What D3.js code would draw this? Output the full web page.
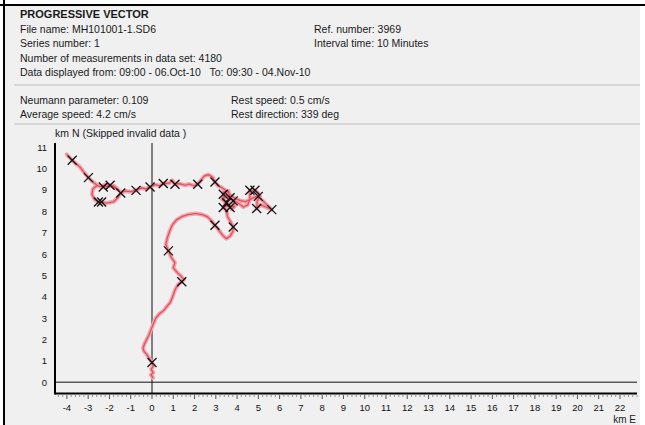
<!DOCTYPE html>
<html>
<head>
<meta charset="utf-8">
<script src="https://cdn.jsdelivr.net/npm/d3@7"></script>
<style>
  html, body { margin: 0; padding: 0; background: #fff; }
  svg { display: block; font-family: "Liberation Sans", Arial, sans-serif; }
  text { white-space: pre; }
</style>
</head>
<body>
<svg id="chart" width="645" height="425"></svg>
<script>
// Header information
const titleText = "PROGRESSIVE VECTOR";
const headerLeft = [
  "File name: MH101001-1.SD6",
  "Series number: 1",
  "Number of measurements in data set: 4180",
  "Data displayed from: 09:00 - 06.Oct-10   To: 09:30 - 04.Nov-10"
];
const headerRight = ["Ref. number: 3969", "Interval time: 10 Minutes"];
const statsLeft = ["Neumann parameter: 0.109", "Average speed: 4.2 cm/s"];
const statsRight = ["Rest speed: 0.5 cm/s", "Rest direction: 339 deg"];
const yTitle = "km N (Skipped invalid data )";
const xTitle = "km E";

// Axis ticks (km)
const xTicks = d3.range(-4, 23);
const yTicks = d3.range(0, 12);

// Cumulative displacement track (km East, km North)
const trackE = [0.05,-0.05,0.06,-0.04,0.05,0,-0.12,-0.25,-0.38,-0.42,-0.35,-0.25,-0.15,-0.05,0.05,0.18,0.35,0.55,0.7,0.85,0.95,1.02,1.12,1.25,1.4,1.5,1.35,1.2,1.0,1.08,0.9,0.77,0.65,0.72,0.82,0.95,1.15,1.4,1.7,2.05,2.35,2.6,2.8,2.96,3.15,3.35,3.5,3.68,3.8,3.82,3.7,3.55,3.5,3.35,3.6,3.82,3.65,3.4,3.3,3.5,3.75,3.9,3.67,3.45,3.35,3.6,3.67,3.9,4.1,4.3,4.5,4.6,4.6,4.84,5.0,5.08,4.95,4.92,5.1,5.35,5.63,5.4,5.15,4.9,4.7,4.4,4.15,3.9,3.7,3.5,3.3,3.1,2.96,2.85,2.65,2.45,2.3,2.15,1.95,1.75,1.55,1.3,1.08,0.95,0.8,0.53,0.35,0.15,-0.09,-0.3,-0.5,-0.75,-1.0,-1.25,-1.47,-1.6,-1.8,-2.05,-2.2,-2.37,-2.52,-2.7,-2.82,-2.78,-2.6,-2.4,-2.2,-1.97,-1.75,-1.55,-1.8,-2.05,-2.29,-2.55,-2.8,-2.99,-3.15,-3.39,-3.6,-3.75,-3.9,-4.01];
const trackN = [0.2,0.35,0.45,0.6,0.75,0.92,1.1,1.3,1.45,1.6,1.8,2.0,2.2,2.45,2.7,3.0,3.2,3.35,3.55,3.72,3.95,4.15,4.4,4.6,4.7,4.8,4.98,5.12,5.35,5.6,5.85,6.15,6.45,6.75,7.05,7.35,7.6,7.75,7.85,7.9,7.85,7.75,7.55,7.35,7.1,6.85,6.72,6.85,7.05,7.27,7.5,7.75,8.05,8.18,8.3,8.49,8.65,8.8,8.55,8.4,8.1,8.25,8.18,8.3,8.9,8.95,8.64,8.5,8.35,8.2,8.3,8.55,8.99,8.99,8.85,8.7,8.5,8.13,8.3,8.2,8.08,8.3,8.55,8.7,8.6,8.45,8.5,8.6,8.75,8.95,9.1,9.2,9.37,9.6,9.72,9.65,9.45,9.27,9.2,9.28,9.22,9.3,9.27,9.45,9.32,9.3,9.2,9.25,9.14,9.05,9.1,8.98,8.92,8.95,8.86,8.65,8.45,8.4,8.39,8.44,8.44,8.55,8.8,9.05,9.2,9.15,9.25,9.22,9.1,8.98,9.2,9.18,9.14,9.2,9.4,9.58,9.77,10.08,10.25,10.39,10.55,10.67];

// Daily positions
const dayE = [0,1.4,0.77,2.96,3.82,3.35,3.67,3.82,3.35,3.67,3.51,4.6,4.84,5.0,4.92,5.63,2.96,2.15,1.08,0.53,-0.09,-0.75,-1.47,-1.97,-2.29,-2.37,-2.52,-2.99,-3.75];
const dayN = [0.92,4.7,6.15,7.35,7.27,8.18,8.18,8.49,8.8,8.64,8.4,8.99,8.99,8.7,8.13,8.08,9.37,9.27,9.27,9.3,9.14,8.98,8.86,9.22,9.14,8.44,8.44,9.58,10.39];

const svg = d3.select("#chart");
const W = 645, H = 425;

// Page frame
svg.append("rect").attr("x", 5).attr("y", 6).attr("width", 635).attr("height", H - 6).attr("fill", "#f0f0f0");
svg.append("line").attr("x1", 0).attr("x2", W).attr("y1", 5).attr("y2", 5).attr("stroke", "#000").attr("stroke-width", 2);
svg.append("line").attr("x1", 4).attr("x2", 4).attr("y1", 0).attr("y2", H).attr("stroke", "#000").attr("stroke-width", 2);

// Header text
const txt = svg.append("g").attr("fill", "#1a1a1a").attr("font-size", 10.5);
txt.append("text").attr("x", 20).attr("y", 18).attr("font-weight", "bold").attr("font-size", 11).text(titleText);
headerLeft.forEach((s, i) => txt.append("text").attr("x", 20).attr("y", 33 + i * 14.3).text(s));
headerRight.forEach((s, i) => txt.append("text").attr("x", 314).attr("y", 33 + i * 14.3).text(s));
statsLeft.forEach((s, i) => txt.append("text").attr("x", 20).attr("y", 104 + i * 14.3).text(s));
statsRight.forEach((s, i) => txt.append("text").attr("x", 231).attr("y", 104 + i * 14.3).text(s));
txt.append("text").attr("x", 55).attr("y", 137).text(yTitle);

// Separators
[85, 124].forEach(y => svg.append("line").attr("x1", 14).attr("x2", 640).attr("y1", y).attr("y2", y)
  .attr("stroke", "#cfcfcf").attr("stroke-width", 1.5));

// Scales
const x = d3.scaleLinear().domain([-4.56, 22.8]).range([55, 637]);
const y = d3.scaleLinear().domain([-0.53, 11.2]).range([393.5, 143]);

// X axis ticks: minor every 0.2 km, major every km
const minor = d3.range(-4.4, 22.81, 0.2).filter(v => Math.abs(v - Math.round(v)) > 0.01);
svg.append("g").selectAll("line").data(minor).join("line")
  .attr("x1", d => x(d)).attr("x2", d => x(d)).attr("y1", 395).attr("y2", 397)
  .attr("stroke", "#777").attr("stroke-width", 0.8);
svg.append("g").selectAll("line").data(xTicks).join("line")
  .attr("x1", d => x(d)).attr("x2", d => x(d)).attr("y1", 395).attr("y2", 399)
  .attr("stroke", "#555").attr("stroke-width", 1);
svg.append("g").attr("font-size", 9.5).attr("fill", "#111").attr("text-anchor", "middle")
  .selectAll("text").data(xTicks).join("text")
  .attr("x", d => x(d)).attr("y", 411).text(d => d);
svg.append("g").attr("font-size", 9.5).attr("fill", "#111").attr("text-anchor", "end")
  .selectAll("text").data(yTicks).join("text")
  .attr("x", 47).attr("y", d => y(d) + 3.5).text(d => d);
svg.append("text").attr("x", 636).attr("y", 423).attr("text-anchor", "end")
  .attr("font-size", 10).attr("fill", "#222").text(xTitle);

// Zero reference lines
svg.append("line").attr("x1", 55).attr("x2", 637).attr("y1", y(0)).attr("y2", y(0)).attr("stroke", "#111").attr("stroke-width", 1);
svg.append("line").attr("x1", x(0)).attr("x2", x(0)).attr("y1", 143).attr("y2", 394).attr("stroke", "#111").attr("stroke-width", 1);

// Axes lines
svg.append("line").attr("x1", 55).attr("x2", 637).attr("y1", 393.5).attr("y2", 393.5).attr("stroke", "#000").attr("stroke-width", 2);
svg.append("line").attr("x1", 55).attr("x2", 55).attr("y1", 143).attr("y2", 394.5).attr("stroke", "#000").attr("stroke-width", 2);

// Track
const pts = trackE.map((e, i) => [e, trackN[i]]);
const line = d3.line().x(d => x(d[0])).y(d => y(d[1]));
svg.append("path").datum(pts).attr("d", line).attr("fill", "none")
  .attr("stroke", "#f0a4ac").attr("stroke-width", 4).attr("stroke-linejoin", "round").attr("stroke-linecap", "round");
svg.append("path").datum(pts).attr("d", line).attr("fill", "none")
  .attr("stroke", "#e0283a").attr("stroke-width", 1.2).attr("stroke-opacity", 0.7).attr("stroke-linejoin", "round");

// Daily markers
const marks = dayE.map((e, i) => [e, dayN[i]]);
const mk = svg.append("g").attr("stroke", "#111").attr("stroke-width", 1.3);
marks.forEach(d => {
  const cx = x(d[0]), cy = y(d[1]), r = 4.5;
  mk.append("line").attr("x1", cx - r).attr("y1", cy - r).attr("x2", cx + r).attr("y2", cy + r);
  mk.append("line").attr("x1", cx - r).attr("y1", cy + r).attr("x2", cx + r).attr("y2", cy - r);
});
</script>
</body>
</html>
